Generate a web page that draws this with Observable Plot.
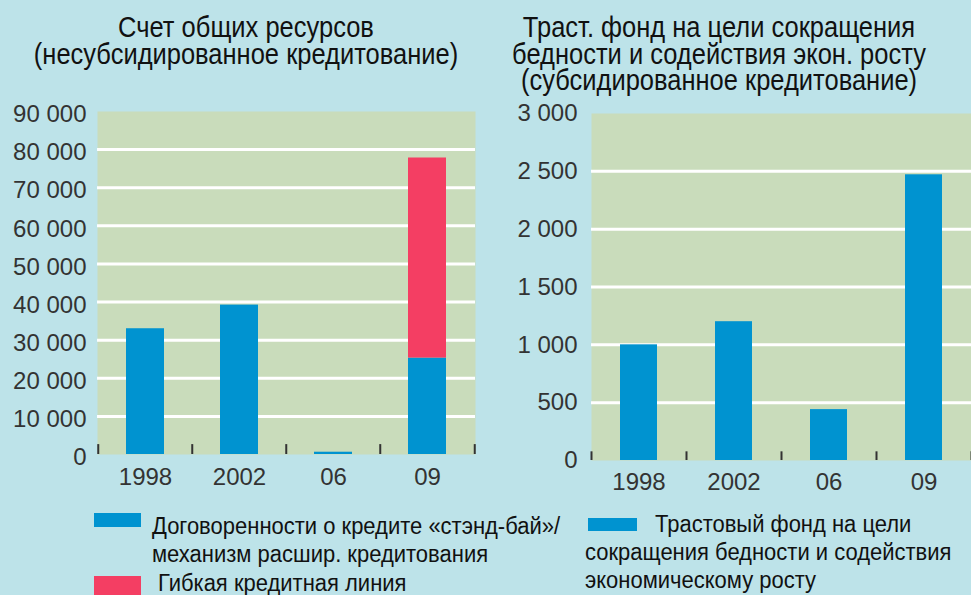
<!DOCTYPE html>
<html>
<head>
<meta charset="utf-8">
<script src="https://cdn.jsdelivr.net/npm/d3@7"></script>
<script src="https://cdn.jsdelivr.net/npm/@observablehq/plot@0.6"></script>
<style>
  body { margin: 0; }
  #page { position: relative; width: 971px; height: 595px; background: #bde3e9; overflow: hidden; font-family: "Liberation Sans", Arial, sans-serif; }
  .pl { position: absolute; }
  #overlay { position: absolute; left: 0; top: 0; }
</style>
</head>
<body>
<div id="page">
  <div id="left" class="pl" style="left:0px;top:100px;width:485px;"></div>
  <div id="right" class="pl" style="left:485px;top:100px;width:486px;"></div>
  <svg id="overlay" width="971" height="595"></svg>
</div>
<script>
// ---- data ----
const years = ["1998", "2002", "06", "09"];
const sbaValues = [33000, 39200, 600, 25300];   // Договоренности «стэнд-бай» / механизм расшир. кредитования
const fclValues = [0, 0, 0, 52500];             // Гибкая кредитная линия
const prgtValues = [1000, 1200, 440, 2470];     // Трастовый фонд ПРГТ
const leftTicks = [0, 10000, 20000, 30000, 40000, 50000, 60000, 70000, 80000, 90000];
const leftGrid = [10000, 20000, 30000, 40000, 50000, 60000, 70000, 80000];
const rightTicks = [0, 500, 1000, 1500, 2000, 2500, 3000];
const rightGrid = [500, 1000, 1500, 2000, 2500];
const leftTitle = ["Счет общих ресурсов", "(несубсидированное кредитование)"];
const rightTitle = ["Траст. фонд на цели сокращения", "бедности и содействия экон. росту", "(субсидированное кредитование)"];
const leftSeries = ["sba", "fcl"];
const legendSba = ["Договоренности о кредите «стэнд-бай»/", "механизм расшир. кредитования"];
const legendFcl = ["Гибкая кредитная линия"];
const legendPrgt = ["Трастовый фонд на цели", "сокращения бедности и содействия", "экономическому росту"];

const BLUE = "#0093d0", RED = "#f43e63", GREEN = "#c9dcbb", BG = "#bde3e9";
const fmt = d => d3.format(",")(d).replace(/,/g, " ");
const FONT = '"Liberation Sans", Arial, sans-serif';

const leftData = years.flatMap((y, i) => [
  {year: y, series: "sba", value: sbaValues[i]},
  {year: y, series: "fcl", value: fclValues[i]}
]);
const rightData = years.map((y, i) => ({year: y, value: prgtValues[i]}));

const baseStyle = {background: "transparent", fontSize: "24px", fontFamily: FONT, color: "#333", overflow: "visible"};

const leftPlot = Plot.plot({
  width: 485, height: 394,
  marginLeft: 97, marginRight: 10, marginTop: 11, marginBottom: 40,
  style: baseStyle,
  x: {type: "band", domain: years, padding: 0},
  y: {domain: [0, 90000]},
  color: {domain: leftSeries, range: [BLUE, RED]},
  marks: [
    Plot.frame({fill: GREEN, stroke: "none"}),
    Plot.ruleY(leftGrid, {stroke: "white", strokeWidth: 3}),
    Plot.barY(leftData, {x: "year", y: "value", fill: "series", insetLeft: 28, insetRight: 28}),
    Plot.ruleX(years, {x: d => d, dx: -47.25, y1: 0, y2: 2600, stroke: "#333", strokeWidth: 2}),
    Plot.ruleX(years.slice(-1), {x: d => d, dx: 47.25, y1: 0, y2: 2600, stroke: "#333", strokeWidth: 2}),
    Plot.axisY({ticks: leftTicks, tickFormat: fmt, tickSize: 0, tickPadding: 11, dy: 3, label: null}),
    Plot.axisX({tickSize: 0, tickPadding: 13, label: null})
  ]
});
document.getElementById("left").append(leftPlot);

const rightPlot = Plot.plot({
  width: 486, height: 400,
  marginLeft: 106, marginRight: 0, marginTop: 13, marginBottom: 40,
  style: baseStyle,
  x: {type: "band", domain: years, padding: 0},
  y: {domain: [0, 3000]},
  marks: [
    Plot.frame({fill: GREEN, stroke: "none"}),
    Plot.ruleY(rightGrid, {stroke: "white", strokeWidth: 3}),
    Plot.barY(rightData, {x: "year", y: "value", fill: BLUE, insetLeft: 29, insetRight: 29}),
    Plot.ruleX(years, {x: d => d, dx: -47.5, y1: 0, y2: 75, stroke: "#333", strokeWidth: 2}),
    Plot.ruleX(years.slice(-1), {x: d => d, dx: 47.5, y1: 0, y2: 75, stroke: "#333", strokeWidth: 2}),
    Plot.axisY({ticks: rightTicks, tickFormat: fmt, tickSize: 0, tickPadding: 14, label: null}),
    Plot.axisX({tickSize: 0, tickPadding: 12, label: null})
  ]
});
document.getElementById("right").append(rightPlot);

// ---- titles and legends ----
const ov = d3.select("#overlay");
function lines(arr, x, y0, step, size, k, anchor) {
  arr.forEach((t, i) => {
    ov.append("text")
      .attr("transform", `translate(${x},${y0 + i * step}) scale(1,${k})`)
      .attr("text-anchor", anchor)
      .attr("font-family", FONT)
      .attr("font-size", size)
      .attr("fill", "#111")
      .text(t);
  });
}
lines(leftTitle, 246, 37, 26.5, 25.5, 1.15, "middle");
lines(rightTitle, 719, 37, 26.5, 25.5, 1.15, "middle");

ov.append("rect").attr("x", 94).attr("y", 513).attr("width", 47).attr("height", 14).attr("fill", BLUE);
lines(legendSba, 152, 534, 28, 22, 1.1, "start");
ov.append("rect").attr("x", 94).attr("y", 576).attr("width", 47).attr("height", 19).attr("fill", RED);
lines(legendFcl, 158, 591, 28, 22, 1.1, "start");

ov.append("rect").attr("x", 588).attr("y", 518).attr("width", 49).attr("height", 13).attr("fill", BLUE);
lines(legendPrgt.slice(0, 1), 655, 532, 28, 22, 1.1, "start");
lines(legendPrgt.slice(1), 585, 560, 28, 22, 1.1, "start");
</script>
</body>
</html>
